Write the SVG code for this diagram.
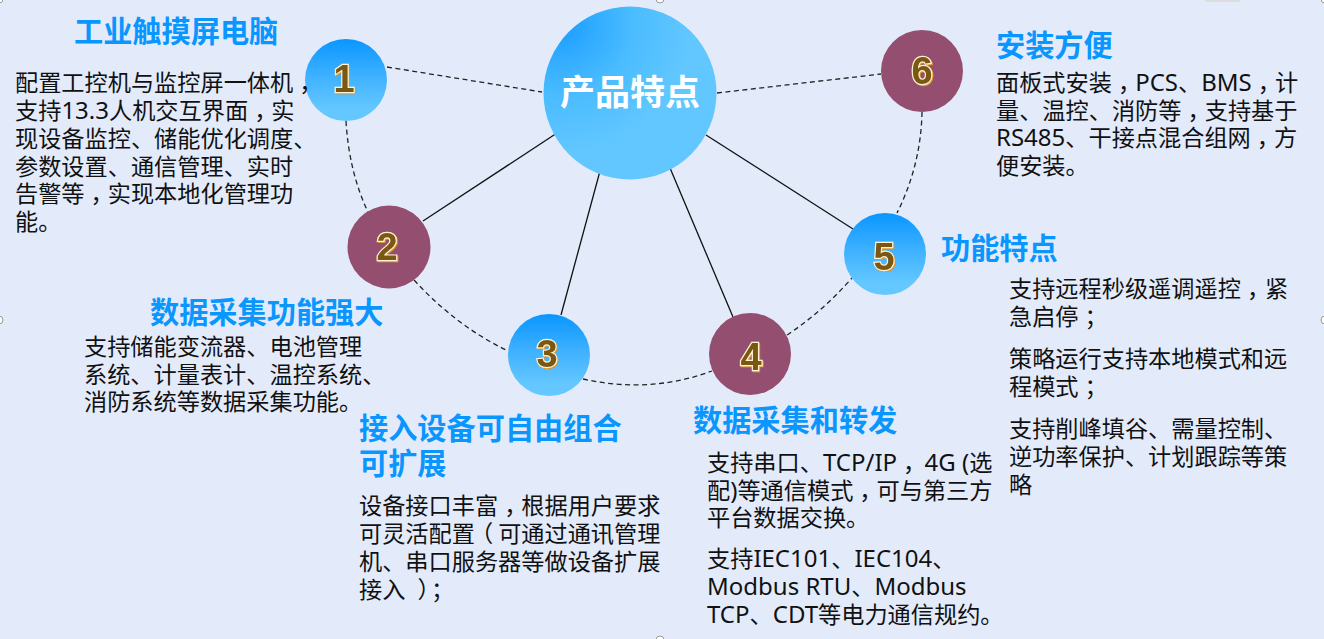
<svg xmlns="http://www.w3.org/2000/svg" width="1324" height="639" viewBox="0 0 1324 639">
<style>
text{font-family:"Noto Sans","Noto Sans CJK SC",sans-serif}
.b{font-size:23.2px;fill:#111;transform:translateX(-1px)}
.l{font-size:24px}
.t{font-size:29.2px;font-weight:700;fill:#0a96ff;font-family:"Noto Sans CJK SC",sans-serif;transform:translate(-1px,1px)}
.n{font-size:38px;font-weight:700;fill:#7a5713;stroke:#fff3d6;stroke-width:2.4px;paint-order:stroke;text-anchor:middle;font-family:"Liberation Sans",sans-serif;filter:drop-shadow(1px 1px 0 #d9952e)}
.c{font-size:35px;font-weight:700;fill:#fff;text-anchor:middle;font-family:"Noto Sans CJK SC",sans-serif}
.blue{fill:url(#g)}
.red{fill:#944e70}
.s{fill:none;stroke:#111;stroke-width:1.3}
.d{fill:none;stroke:#222;stroke-width:1.3;stroke-dasharray:5 3.5}
.h{fill:#fff;stroke:#999;stroke-width:1}
</style>
<defs>
<linearGradient id="g" x1="0" y1="0" x2="0" y2="1"><stop offset="0" stop-color="#0a96ff"/><stop offset=".45" stop-color="#3eb1ff"/><stop offset=".85" stop-color="#64c7ff"/></linearGradient>
<radialGradient id="cg" cx="0.1" cy="0.1" r="0.75"><stop offset="0" stop-color="#1a9dff"/><stop offset=".55" stop-color="#4abcff"/><stop offset="1" stop-color="#62c7ff"/></radialGradient>
</defs>
<rect width="1324" height="639" fill="#e3ebfb"/>
<g id="handles">
<rect x="1205" y="0" width="35" height="2" fill="#ddd"/>
<circle class="h" cx="660" cy="-1" r="4"/><circle class="h" cx="-1" cy="320" r="4"/><circle class="h" cx="1325" cy="320" r="4"/><circle class="h" cx="660" cy="640" r="4"/><circle class="h" cx="-1" cy="-1" r="4"/><circle class="h" cx="1325" cy="-1" r="4"/>
</g>
<g id="connectors">
<line class="s" x1="557" y1="133" x2="423" y2="221"/>
<line class="s" x1="600" y1="171" x2="561" y2="315"/>
<line class="s" x1="670" y1="168" x2="733" y2="317"/>
<line class="s" x1="706" y1="135" x2="853" y2="229"/>
<line class="d" x1="387" y1="67" x2="542" y2="92"/>
<line class="d" x1="717" y1="93" x2="881" y2="74"/>
<path class="d" d="M346 121Q349 172 368 212"/>
<path class="d" d="M922 112Q921 165 897 213"/>
<path class="d" d="M414 280Q456 326 508 351"/>
<path class="d" d="M583 379Q650 394 712 371"/>
<path class="d" d="M787 335Q822 312 852 278"/>
</g>
<g id="center"><circle cx="630" cy="93" r="86.5" fill="url(#cg)"/><text class="c" x="630" y="105">产品特点</text></g>
<g id="node1"><circle class="blue" cx="346" cy="80" r="41"/><text class="n" x="344" y="92">1</text>
<text class="t" x="75" y="41">工业触摸屏电脑</text>
<text class="b" x="16" y="91">配置工控机与监控屏一体机<tspan dx="6">，</tspan></text>
<text class="b" x="16" y="119">支持<tspan class="l">13.3</tspan>人机交互界面<tspan dx="6">，</tspan><tspan dx="-6">实</tspan></text>
<text class="b" x="16" y="147">现设备监控、储能优化调度、</text>
<text class="b" x="16" y="175">参数设置、通信管理、实时</text>
<text class="b" x="16" y="202">告警等<tspan dx="6">，</tspan><tspan dx="-6">实</tspan>现本地化管理功</text>
<text class="b" x="16" y="230">能。</text></g>
<g id="node2"><circle class="red" cx="389" cy="247" r="41.5"/><text class="n" x="387" y="260">2</text>
<text class="t" x="151" y="322">数据采集功能强大</text>
<text class="b" x="85" y="355">支持储能变流器、电池管理</text>
<text class="b" x="85" y="383">系统、计量表计、温控系统、</text>
<text class="b" x="85" y="410">消防系统等数据采集功能。</text></g>
<g id="node3"><circle class="blue" cx="549" cy="355" r="41"/><text class="n" x="547" y="367">3</text>
<text class="t" x="360" y="438">接入设备可自由组合</text>
<text class="t" x="360" y="473">可扩展</text>
<text class="b" x="360" y="514">设备接口丰富<tspan dx="6">，</tspan><tspan dx="-6">根</tspan>据用户要求</text>
<text class="b" x="360" y="542">可灵活配置<tspan dx="-5">（</tspan><tspan dx="5">可</tspan>通过通讯管理</text>
<text class="b" x="360" y="570">机、串口服务器等做设备扩展</text>
<text class="b" x="360" y="598">接入<tspan dx="12">）</tspan><tspan dx="2">；</tspan></text></g>
<g id="node4"><circle class="red" cx="750" cy="354" r="41"/><text class="n" x="751" y="370">4</text>
<text class="t" x="694" y="430">数据采集和转发</text>
<text class="b" x="708" y="471">支持串口、<tspan class="l">TCP/IP</tspan><tspan dx="6">，</tspan><tspan class="l" dx="-8"> 4G (</tspan>选</text>
<text class="b" x="708" y="499">配<tspan class="l">)</tspan>等通信模式<tspan dx="6">，</tspan><tspan dx="-6">可</tspan>与第三方</text>
<text class="b" x="708" y="526">平台数据交换。</text>
<text class="b" x="708" y="567">支持<tspan class="l">IEC101</tspan>、<tspan class="l">IEC104</tspan>、</text>
<text class="b" x="708" y="595"><tspan class="l">Modbus RTU</tspan>、<tspan class="l">Modbus</tspan></text>
<text class="b" x="708" y="623"><tspan class="l">TCP</tspan>、<tspan class="l">CDT</tspan>等电力通信规约。</text></g>
<g id="node5"><circle class="blue" cx="885" cy="254" r="41"/><text class="n" x="884" y="270">5</text>
<text class="t" x="942" y="258">功能特点</text>
<text class="b" x="1010" y="297">支持远程秒级遥调遥控<tspan dx="6">，</tspan><tspan dx="-5">紧</tspan></text>
<text class="b" x="1010" y="325">急启停<tspan dx="6">；</tspan></text>
<text class="b" x="1010" y="367">策略运行支持本地模式和远</text>
<text class="b" x="1010" y="395">程模式<tspan dx="6">；</tspan></text>
<text class="b" x="1010" y="437">支持削峰填谷、需量控制、</text>
<text class="b" x="1010" y="465">逆功率保护、计划跟踪等策</text>
<text class="b" x="1010" y="493">略</text></g>
<g id="node6"><circle class="red" cx="922" cy="71" r="41"/><text class="n" x="922" y="84">6</text>
<text class="t" x="997" y="55">安装方便</text>
<text class="b" x="997" y="91">面板式安装<tspan dx="6">，</tspan><tspan class="l" dx="-6">PCS</tspan>、<tspan class="l">BMS</tspan><tspan dx="6">，</tspan><tspan dx="-6">计</tspan></text>
<text class="b" x="997" y="119">量、温控、消防等<tspan dx="6">，</tspan><tspan dx="-6">支</tspan>持基于</text>
<text class="b" x="997" y="146"><tspan class="l">RS485</tspan>、干接点混合组网<tspan dx="6">，</tspan><tspan dx="-6">方</tspan></text>
<text class="b" x="997" y="174">便安装。</text></g>
</svg>
